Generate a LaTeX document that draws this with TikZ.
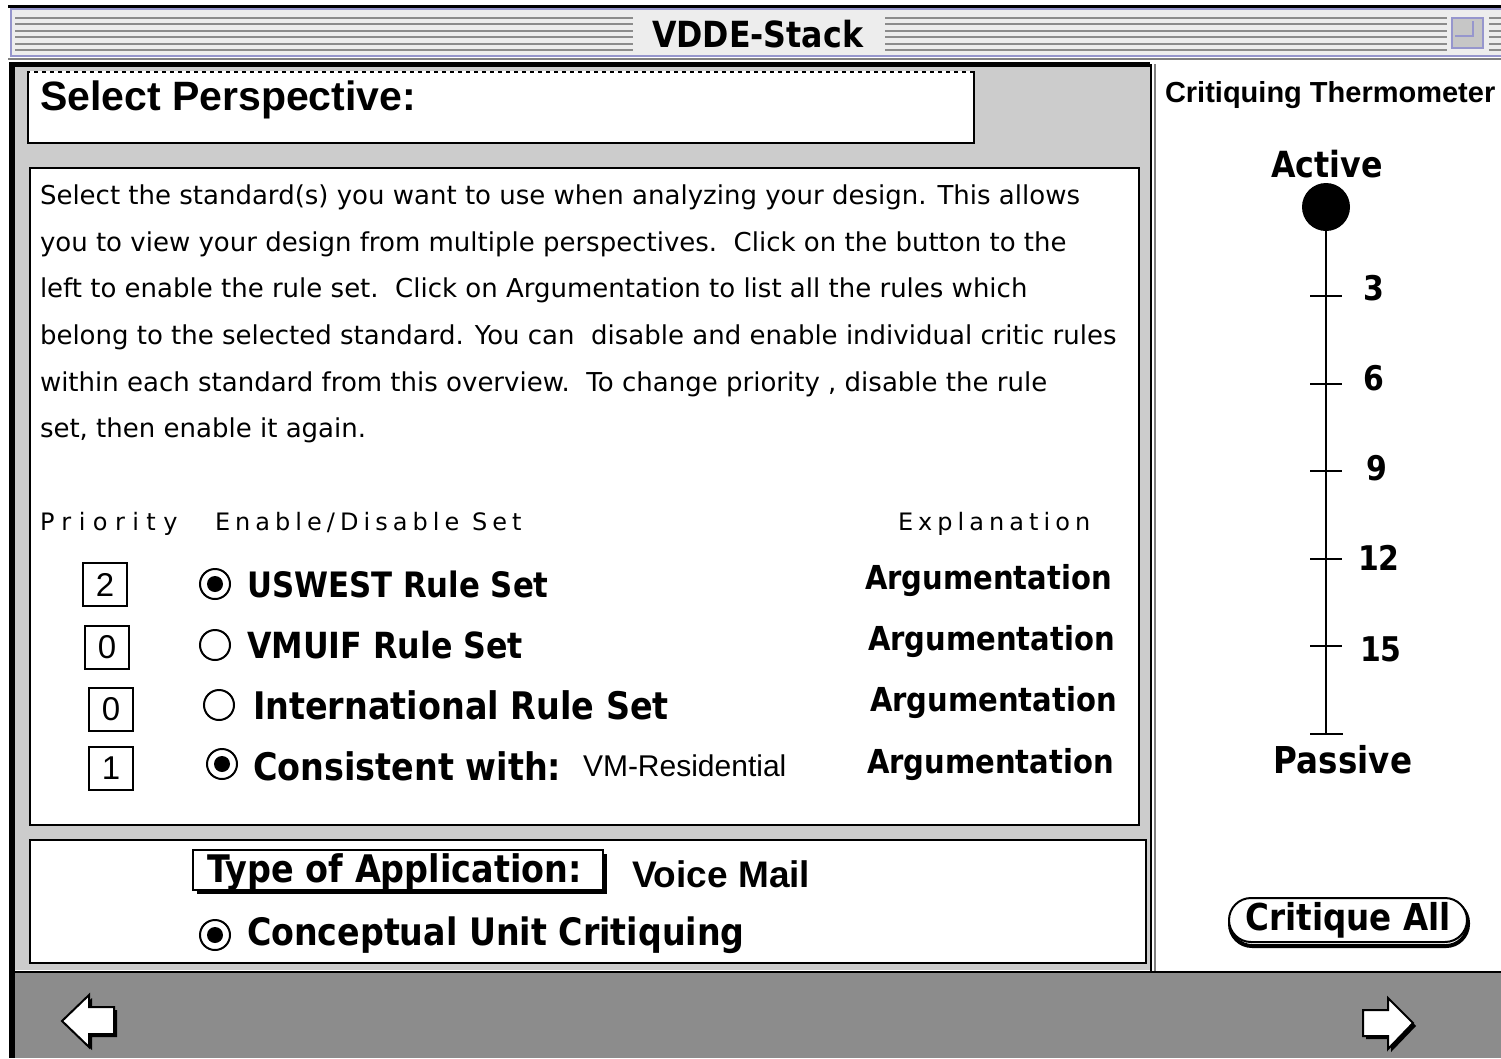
\documentclass[tikz,border=0pt]{standalone}
\usepackage{fontspec}
\setmainfont{DejaVu Sans}
\newfontfamily\chic[FakeStretch=0.88]{DejaVu Sans}
\newfontfamily\gen{DejaVu Sans}
\newfontfamily\genls[LetterSpace=21]{DejaVu Sans}
\newfontfamily\genlsw[LetterSpace=31]{DejaVu Sans}
\newfontfamily\ari{Liberation Sans}
\newcommand\fsz[1]{\fontsize{#1}{#1}\selectfont}
\definecolor{panelgray}{gray}{0.80}
\definecolor{bargray}{gray}{0.55}
\definecolor{titlebg}{gray}{0.93}
\definecolor{lav}{RGB}{150,150,205}
\definecolor{stripe}{gray}{0.55}
\tikzset{
  lbl/.style={inner sep=0pt, outer sep=0pt, anchor=base west},
  cbl/.style={inner sep=0pt, outer sep=0pt, anchor=base},
  bodytxt/.style={lbl, font=\gen\fsz{26}},
  hdr/.style={lbl, font=\genls\fsz{24}},
  chicago/.style={lbl, font=\chic\bfseries\fsz{35}},
  argu/.style={lbl, font=\chic\bfseries\fsz{33}},
  radio/.style={circle, draw, line width=2pt, minimum size=30pt, inner sep=0pt},
  prio/.style={draw, line width=2pt, minimum width=44pt, minimum height=43pt, inner sep=0pt, font=\ari\fsz{33}},
  tick/.style={line width=2pt},
  ticklbl/.style={lbl, font=\chic\bfseries\fsz{34}},
  frame/.style={line width=2.5pt},
  navarrow/.style={fill=white, draw=black, line width=2pt, line join=miter}
}
\begin{document}
\begin{tikzpicture}[x=1pt,y=-1pt]
\useasboundingbox (0,0) rectangle (1501,1058);
\fill[white] (0,0) rectangle (1501,1058);
% ---------- title bar ----------
\fill[black] (8,5) rectangle (1501,8);
\filldraw[fill=titlebg, draw=lav, line width=2pt] (11,9) rectangle (1503,56);
\foreach \yy in {18,24.4,30.8,37.2,43.6,50} {
  \draw[stripe, line width=2pt] (15,\yy) -- (633,\yy);
  \draw[stripe, line width=2pt] (885,\yy) -- (1447,\yy);
  \draw[stripe, line width=2pt] (1489,\yy) -- (1501,\yy);
}
\node[lbl, font=\chic\bfseries\fsz{36}] (title) at (652,47) {VDDE-Stack};
\filldraw[fill=gray!45, draw=lav, line width=2pt] (1452,18) rectangle (1483,48);
\draw[lav, line width=2pt] (1455,36) -- (1473,36) -- (1473,21);
\draw[gray, line width=2pt] (8,59) -- (1501,59);
% ---------- left panel ----------
\fill[black] (9,62) rectangle (15,1058);
\fill[panelgray] (15,67) rectangle (1150,970);
\fill[black] (9,62) rectangle (1150,67);
\draw[line width=2.5pt] (1151,64) -- (1151,972);
\draw[gray, line width=1.5pt] (1155,64) -- (1155,972);
% Select Perspective box
\filldraw[fill=white, line width=2pt] (28,72) rectangle (974,143);
\draw[white, line width=1.2pt, dash pattern=on 4pt off 4pt] (30,72) -- (972,72);
\node[lbl, font=\ari\bfseries\fsz{41}] (selp) at (40,110) {Select Perspective:};
% text box
\filldraw[fill=white, frame] (30,168) rectangle (1139,825);
\node[bodytxt] (l1) at (40,204) {Select the standard(s) you want to use when analyzing your design. This allows};
\node[bodytxt] (l2) at (40,251) {you to view your design from multiple perspectives.\ \ Click on the button to the};
\node[bodytxt] (l3) at (40,297) {left to enable the rule set.\ \ Click on Argumentation to list all the rules which};
\node[bodytxt] (l4) at (40,344) {belong to the selected standard. You can\ \ disable and enable individual critic rules};
\node[bodytxt] (l5) at (40,391) {within each standard from this overview.\ \ To change priority , disable the rule};
\node[bodytxt] (l6) at (40,437) {set, then enable it again.};
% headers
\node[lbl, font=\genlsw\fsz{24}] (hprio) at (40,530) {Priority};
\node[hdr] (hset) at (215,530) {Enable/Disable Set};
\node[hdr] (hexp) at (898,530) {Explanation};
% priority boxes
\node[prio] (p1) at (105,584.5) {2};
\node[prio] (p2) at (107,647) {0};
\node[prio] (p3) at (111,709) {0};
\node[prio] (p4) at (111,768) {1};
% radio buttons
\node[radio] (r1) at (215,584) {};
\fill (r1.center) circle (8pt);
\node[radio] (r2) at (215,645) {};
\node[radio] (r3) at (219,705) {};
\node[radio] (r4) at (222,764) {};
\fill (r4.center) circle (8pt);
% rule set labels
\node[chicago] (s1) at (247,597) {USWEST Rule Set};
\node[chicago, font=\chic\bfseries\fsz{36}] (s2) at (247,658) {VMUIF Rule Set};
\node[chicago, font=\chic\bfseries\fsz{38}] (s3) at (253,719) {International Rule Set};
\node[chicago, font=\chic\bfseries\fsz{38}] (s4) at (253,780) {Consistent with:};
\node[lbl, font=\ari\fsz{30}] (vmres) at (583,776) {VM-Residential};
% argumentation
\node[argu] (a1) at (865,589) {Argumentation};
\node[argu] (a2) at (868,650) {Argumentation};
\node[argu] (a3) at (870,711) {Argumentation};
\node[argu] (a4) at (867,773) {Argumentation};
% bottom box
\filldraw[fill=white, frame] (30,840) rectangle (1146,963);
\fill[black] (197,854) rectangle (607,894);
\filldraw[fill=white, line width=2pt] (193,850) rectangle (603,890);
\node[lbl, font=\chic\bfseries\fsz{38}] (toa) at (207,882) {Type of Application:};
\node[lbl, font=\ari\bfseries\fsz{37}] (vmail) at (632,887) {Voice Mail};
\node[radio] (r5) at (215,935) {};
\fill (r5.center) circle (8pt);
\node[lbl, font=\chic\bfseries\fsz{37.8}] (cuc) at (247,945) {Conceptual Unit Critiquing};
% ---------- right panel ----------
\node[lbl, font=\ari\bfseries\fsz{29}] (ctherm) at (1165,102) {Critiquing Thermometer};
\node[cbl, font=\chic\bfseries\fsz{36}] (active) at (1327,177) {Active};
\node[circle, fill=black, minimum size=48pt, inner sep=0pt] (bulb) at (1326,207) {};
\coordinate (tbot) at (1326,734);
\draw[line width=2pt] (bulb) -- (tbot);
\foreach \ty/\lx/\ly/\tl in {296/1363/300/3, 384/1363/390/6, 471/1366/480/9, 559/1358/570/12, 646/1360/661/15} {
  \draw[tick] (1310,\ty) -- (1342,\ty);
  \node[ticklbl] at (\lx,\ly) {\tl};
}
\draw[tick] (1310,734) -- (1343,734);
\node[cbl, font=\chic\bfseries\fsz{37}] (passive) at (1343,773) {Passive};
% Critique All button
\draw[line width=4pt, rounded corners=22pt] (1230,901) rectangle (1468,946);
\node[draw, fill=white, line width=2pt, rounded corners=22pt, minimum width=238pt, minimum height=44pt, inner sep=0pt,
      font=\chic\bfseries\fsz{37}] (crit) at (1348,920) {Critique All};
% ---------- bottom bar ----------
\fill[bargray] (15,972) rectangle (1501,1058);
\draw[line width=2pt] (15,972) -- (1501,972);
\fill[black] (65,1024) -- (92,998) -- (92,1010) -- (117,1010) -- (117,1037) -- (92,1037) -- (92,1050) -- cycle;
\filldraw[navarrow] (62,1021) -- (89,995) -- (89,1007) -- (114,1007) -- (114,1034) -- (89,1034) -- (89,1047) -- cycle;
\fill[black] (1416,1026) -- (1391,1001) -- (1391,1013) -- (1366,1013) -- (1366,1039) -- (1391,1039) -- (1391,1052) -- cycle;
\filldraw[navarrow] (1413,1023) -- (1388,998) -- (1388,1010) -- (1363,1010) -- (1363,1036) -- (1388,1036) -- (1388,1049) -- cycle;
\end{tikzpicture}
\end{document}
